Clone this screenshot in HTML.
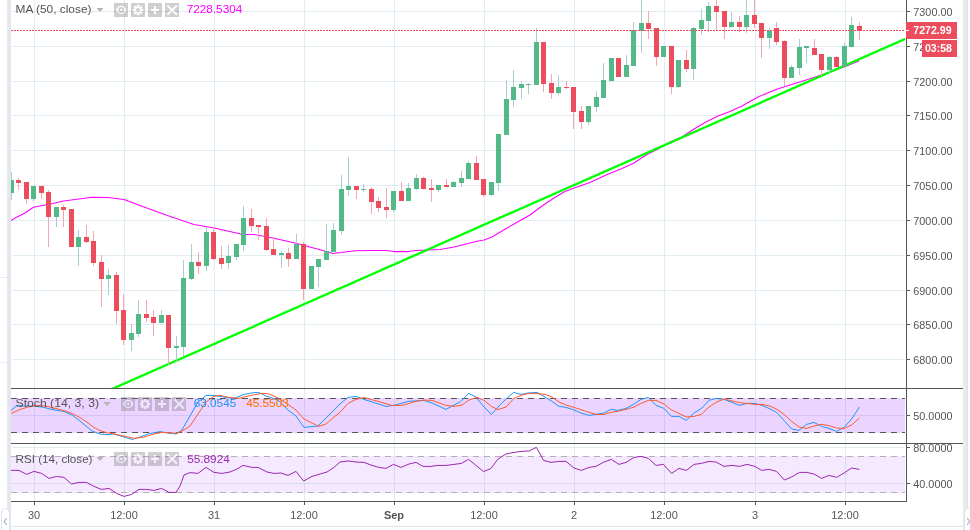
<!DOCTYPE html>
<html><head><meta charset="utf-8"><title>Chart</title>
<style>html,body{margin:0;padding:0;background:#fff;}body{width:970px;height:530px;overflow:hidden;font-family:"Liberation Sans",sans-serif;}svg{display:block;will-change:transform;}text{font-family:"Liberation Sans",sans-serif;}</style>
</head><body>
<svg width="970" height="530" viewBox="0 0 970 530">
<defs>
<clipPath id="cm"><rect x="11" y="0" width="894" height="388"/></clipPath>
<clipPath id="cs"><rect x="11" y="389" width="894" height="54"/></clipPath>
<clipPath id="cr"><rect x="11" y="444" width="894" height="57"/></clipPath>
</defs>
<rect x="0" y="0" width="970" height="530" fill="#ffffff"/>
<g shape-rendering="crispEdges">
<rect x="7" y="0" width="1" height="530" fill="#e7eaee"/>
<rect x="8" y="0" width="3" height="530" fill="#e3e7eb"/>
<rect x="0" y="277" width="7" height="1" fill="#e6eaee"/>
<rect x="0" y="362" width="7" height="1" fill="#eceff3"/>
<rect x="968" y="148" width="2" height="1" fill="#f0f2f4"/>
<rect x="968" y="369" width="2" height="1" fill="#f0f2f4"/>
<rect x="963" y="0" width="4" height="530" fill="#e8ebee"/>
<rect x="967" y="0" width="1" height="530" fill="#dde1e6"/>
</g>
<g shape-rendering="crispEdges" fill="#e1ecf2">
<rect x="12" y="11" width="893" height="1"/>
<rect x="12" y="46" width="893" height="1"/>
<rect x="12" y="81" width="893" height="1"/>
<rect x="12" y="115" width="893" height="1"/>
<rect x="12" y="150" width="893" height="1"/>
<rect x="12" y="185" width="893" height="1"/>
<rect x="12" y="220" width="893" height="1"/>
<rect x="12" y="255" width="893" height="1"/>
<rect x="12" y="290" width="893" height="1"/>
<rect x="12" y="324" width="893" height="1"/>
<rect x="12" y="359" width="893" height="1"/>
<rect x="12" y="415" width="893" height="1"/>
<rect x="12" y="447" width="893" height="1"/>
<rect x="12" y="483" width="893" height="1"/>
<rect x="34" y="0" width="1" height="501"/>
<rect x="124" y="0" width="1" height="501"/>
<rect x="214" y="0" width="1" height="501"/>
<rect x="304" y="0" width="1" height="501"/>
<rect x="394" y="0" width="1" height="501"/>
<rect x="484" y="0" width="1" height="501"/>
<rect x="574" y="0" width="1" height="501"/>
<rect x="664" y="0" width="1" height="501"/>
<rect x="755" y="0" width="1" height="501"/>
<rect x="845" y="0" width="1" height="501"/>
</g>
<g clip-path="url(#cm)">
<polyline points="11,220.5 16,217.5 25,213 33.5,207.2 45,205 53,203.5 62,201.2 75,199.5 92,197.3 108,197.4 124,199.4 144,207 166,215 185,221.4 194,224.4 214.4,228 243,234.4 253,234.4 273,238 297,243.4 321,250 333,253.4 341,252.6 355,250.8 370,250.4 386,250.4 394,251.6 408,251.6 416,250.4 428,250 440,249.4 454,247 466,244 478,241 484,240 492,237 502,231 514,224 530,215 542,206 554,198 564,192 574,188 590,182.4 606,175 622,168.4 634,163 646,155 658,149 670,142 682,137 694,129 706,122 718,116 730,111.6 742,106 758,97 776,89.4 790,85 814,77.5 830,72 844,67 859,61" fill="none" stroke="#ff00ff" stroke-width="1.05" stroke-linejoin="round"/>
<line x1="100" y1="394.28" x2="920" y2="32.38" stroke="#00ff00" stroke-width="2.3"/>
<g shape-rendering="crispEdges">
<rect x="11" y="172" width="1" height="8" fill="#a9cdd3"/>
<rect x="11" y="193" width="1" height="7" fill="#a9cdd3"/>
<rect x="9" y="180" width="5" height="13" fill="#53b987"/>
<rect x="18" y="178" width="1" height="2" fill="#f5a6ae"/>
<rect x="18" y="183" width="1" height="7" fill="#f5a6ae"/>
<rect x="16" y="180" width="5" height="3" fill="#eb4d5c"/>
<rect x="26" y="199" width="1" height="5" fill="#f5a6ae"/>
<rect x="24" y="182" width="5" height="17" fill="#eb4d5c"/>
<rect x="33" y="199" width="1" height="2" fill="#a9cdd3"/>
<rect x="31" y="186" width="5" height="13" fill="#53b987"/>
<rect x="41" y="193" width="1" height="6" fill="#f5a6ae"/>
<rect x="39" y="186" width="5" height="7" fill="#eb4d5c"/>
<rect x="48" y="190" width="1" height="2" fill="#f5a6ae"/>
<rect x="48" y="217" width="1" height="30" fill="#f5a6ae"/>
<rect x="46" y="192" width="5" height="25" fill="#eb4d5c"/>
<rect x="56" y="217" width="1" height="10" fill="#a9cdd3"/>
<rect x="54" y="207" width="5" height="10" fill="#53b987"/>
<rect x="63" y="205" width="1" height="2" fill="#f5a6ae"/>
<rect x="63" y="210" width="1" height="17" fill="#f5a6ae"/>
<rect x="61" y="207" width="5" height="3" fill="#eb4d5c"/>
<rect x="69" y="209" width="5" height="38" fill="#eb4d5c"/>
<rect x="78" y="230" width="1" height="7" fill="#a9cdd3"/>
<rect x="78" y="247" width="1" height="19" fill="#a9cdd3"/>
<rect x="76" y="237" width="5" height="10" fill="#53b987"/>
<rect x="86" y="225" width="1" height="12" fill="#f5a6ae"/>
<rect x="86" y="242" width="1" height="1" fill="#f5a6ae"/>
<rect x="84" y="237" width="5" height="5" fill="#eb4d5c"/>
<rect x="93" y="231" width="1" height="10" fill="#f5a6ae"/>
<rect x="93" y="263" width="1" height="3" fill="#f5a6ae"/>
<rect x="91" y="241" width="5" height="22" fill="#eb4d5c"/>
<rect x="101" y="255" width="1" height="7" fill="#f5a6ae"/>
<rect x="101" y="279" width="1" height="28" fill="#f5a6ae"/>
<rect x="99" y="262" width="5" height="17" fill="#eb4d5c"/>
<rect x="108" y="269" width="1" height="6" fill="#a9cdd3"/>
<rect x="108" y="279" width="1" height="16" fill="#a9cdd3"/>
<rect x="106" y="275" width="5" height="4" fill="#53b987"/>
<rect x="116" y="272" width="1" height="3" fill="#f5a6ae"/>
<rect x="116" y="311" width="1" height="13" fill="#f5a6ae"/>
<rect x="114" y="275" width="5" height="36" fill="#eb4d5c"/>
<rect x="123" y="294" width="1" height="16" fill="#f5a6ae"/>
<rect x="123" y="340" width="1" height="5" fill="#f5a6ae"/>
<rect x="121" y="310" width="5" height="30" fill="#eb4d5c"/>
<rect x="131" y="324" width="1" height="9" fill="#a9cdd3"/>
<rect x="131" y="340" width="1" height="11" fill="#a9cdd3"/>
<rect x="129" y="333" width="5" height="7" fill="#53b987"/>
<rect x="138" y="300" width="1" height="14" fill="#a9cdd3"/>
<rect x="138" y="334" width="1" height="3" fill="#a9cdd3"/>
<rect x="136" y="314" width="5" height="20" fill="#53b987"/>
<rect x="146" y="300" width="1" height="14" fill="#f5a6ae"/>
<rect x="146" y="318" width="1" height="4" fill="#f5a6ae"/>
<rect x="144" y="314" width="5" height="4" fill="#eb4d5c"/>
<rect x="153" y="310" width="1" height="7" fill="#f5a6ae"/>
<rect x="153" y="323" width="1" height="13" fill="#f5a6ae"/>
<rect x="151" y="317" width="5" height="6" fill="#eb4d5c"/>
<rect x="161" y="310" width="1" height="5" fill="#a9cdd3"/>
<rect x="159" y="315" width="5" height="8" fill="#53b987"/>
<rect x="168" y="348" width="1" height="17" fill="#f5a6ae"/>
<rect x="166" y="315" width="5" height="33" fill="#eb4d5c"/>
<rect x="176" y="336" width="1" height="10" fill="#a9cdd3"/>
<rect x="176" y="348" width="1" height="13" fill="#a9cdd3"/>
<rect x="174" y="346" width="5" height="2" fill="#53b987"/>
<rect x="183" y="260" width="1" height="18" fill="#a9cdd3"/>
<rect x="183" y="347" width="1" height="9" fill="#a9cdd3"/>
<rect x="181" y="278" width="5" height="69" fill="#53b987"/>
<rect x="191" y="244" width="1" height="18" fill="#a9cdd3"/>
<rect x="191" y="279" width="1" height="1" fill="#a9cdd3"/>
<rect x="189" y="262" width="5" height="17" fill="#53b987"/>
<rect x="198" y="252" width="1" height="10" fill="#f5a6ae"/>
<rect x="198" y="266" width="1" height="8" fill="#f5a6ae"/>
<rect x="196" y="262" width="5" height="4" fill="#eb4d5c"/>
<rect x="206" y="227" width="1" height="5" fill="#a9cdd3"/>
<rect x="206" y="266" width="1" height="5" fill="#a9cdd3"/>
<rect x="204" y="232" width="5" height="34" fill="#53b987"/>
<rect x="213" y="227" width="1" height="5" fill="#f5a6ae"/>
<rect x="213" y="259" width="1" height="1" fill="#f5a6ae"/>
<rect x="211" y="232" width="5" height="27" fill="#eb4d5c"/>
<rect x="221" y="246" width="1" height="12" fill="#f5a6ae"/>
<rect x="221" y="264" width="1" height="5" fill="#f5a6ae"/>
<rect x="219" y="258" width="5" height="6" fill="#eb4d5c"/>
<rect x="228" y="245" width="1" height="11" fill="#a9cdd3"/>
<rect x="228" y="263" width="1" height="6" fill="#a9cdd3"/>
<rect x="226" y="256" width="5" height="7" fill="#53b987"/>
<rect x="236" y="257" width="1" height="3" fill="#a9cdd3"/>
<rect x="234" y="244" width="5" height="13" fill="#53b987"/>
<rect x="243" y="206" width="1" height="12" fill="#a9cdd3"/>
<rect x="243" y="245" width="1" height="6" fill="#a9cdd3"/>
<rect x="241" y="218" width="5" height="27" fill="#53b987"/>
<rect x="251" y="209" width="1" height="9" fill="#f5a6ae"/>
<rect x="251" y="226" width="1" height="6" fill="#f5a6ae"/>
<rect x="249" y="218" width="5" height="8" fill="#eb4d5c"/>
<rect x="258" y="227" width="1" height="13" fill="#f5a6ae"/>
<rect x="256" y="225" width="5" height="2" fill="#eb4d5c"/>
<rect x="266" y="218" width="1" height="8" fill="#f5a6ae"/>
<rect x="266" y="250" width="1" height="1" fill="#f5a6ae"/>
<rect x="264" y="226" width="5" height="24" fill="#eb4d5c"/>
<rect x="273" y="237" width="1" height="12" fill="#f5a6ae"/>
<rect x="271" y="249" width="5" height="6" fill="#eb4d5c"/>
<rect x="281" y="251" width="1" height="2" fill="#a9cdd3"/>
<rect x="281" y="255" width="1" height="13" fill="#a9cdd3"/>
<rect x="279" y="253" width="5" height="2" fill="#53b987"/>
<rect x="288" y="248" width="1" height="5" fill="#f5a6ae"/>
<rect x="288" y="259" width="1" height="8" fill="#f5a6ae"/>
<rect x="286" y="253" width="5" height="6" fill="#eb4d5c"/>
<rect x="296" y="234" width="1" height="10" fill="#a9cdd3"/>
<rect x="294" y="244" width="5" height="15" fill="#53b987"/>
<rect x="303" y="242" width="1" height="2" fill="#f5a6ae"/>
<rect x="303" y="289" width="1" height="11" fill="#f5a6ae"/>
<rect x="301" y="244" width="5" height="45" fill="#eb4d5c"/>
<rect x="309" y="266" width="5" height="23" fill="#53b987"/>
<rect x="318" y="267" width="1" height="20" fill="#a9cdd3"/>
<rect x="316" y="259" width="5" height="8" fill="#53b987"/>
<rect x="326" y="224" width="1" height="27" fill="#a9cdd3"/>
<rect x="324" y="251" width="5" height="9" fill="#53b987"/>
<rect x="333" y="223" width="1" height="7" fill="#a9cdd3"/>
<rect x="331" y="230" width="5" height="22" fill="#53b987"/>
<rect x="341" y="175" width="1" height="14" fill="#a9cdd3"/>
<rect x="341" y="231" width="1" height="4" fill="#a9cdd3"/>
<rect x="339" y="189" width="5" height="42" fill="#53b987"/>
<rect x="348" y="157" width="1" height="29" fill="#a9cdd3"/>
<rect x="348" y="190" width="1" height="6" fill="#a9cdd3"/>
<rect x="346" y="186" width="5" height="4" fill="#53b987"/>
<rect x="356" y="190" width="1" height="9" fill="#f5a6ae"/>
<rect x="354" y="186" width="5" height="4" fill="#eb4d5c"/>
<rect x="363" y="184" width="1" height="5" fill="#a9cdd3"/>
<rect x="363" y="190" width="1" height="2" fill="#a9cdd3"/>
<rect x="361" y="189" width="5" height="1" fill="#53b987"/>
<rect x="371" y="187" width="1" height="2" fill="#f5a6ae"/>
<rect x="371" y="202" width="1" height="12" fill="#f5a6ae"/>
<rect x="369" y="189" width="5" height="13" fill="#eb4d5c"/>
<rect x="378" y="197" width="1" height="4" fill="#f5a6ae"/>
<rect x="378" y="208" width="1" height="4" fill="#f5a6ae"/>
<rect x="376" y="201" width="5" height="7" fill="#eb4d5c"/>
<rect x="386" y="188" width="1" height="19" fill="#f5a6ae"/>
<rect x="386" y="210" width="1" height="8" fill="#f5a6ae"/>
<rect x="384" y="207" width="5" height="3" fill="#eb4d5c"/>
<rect x="393" y="210" width="1" height="2" fill="#a9cdd3"/>
<rect x="391" y="191" width="5" height="19" fill="#53b987"/>
<rect x="401" y="182" width="1" height="9" fill="#f5a6ae"/>
<rect x="399" y="191" width="5" height="10" fill="#eb4d5c"/>
<rect x="408" y="183" width="1" height="5" fill="#a9cdd3"/>
<rect x="406" y="188" width="5" height="13" fill="#53b987"/>
<rect x="416" y="174" width="1" height="4" fill="#a9cdd3"/>
<rect x="416" y="189" width="1" height="1" fill="#a9cdd3"/>
<rect x="414" y="178" width="5" height="11" fill="#53b987"/>
<rect x="423" y="177" width="1" height="1" fill="#f5a6ae"/>
<rect x="421" y="178" width="5" height="11" fill="#eb4d5c"/>
<rect x="431" y="179" width="1" height="9" fill="#f5a6ae"/>
<rect x="431" y="190" width="1" height="12" fill="#f5a6ae"/>
<rect x="429" y="188" width="5" height="2" fill="#eb4d5c"/>
<rect x="438" y="190" width="1" height="2" fill="#a9cdd3"/>
<rect x="436" y="185" width="5" height="5" fill="#53b987"/>
<rect x="446" y="179" width="1" height="6" fill="#f5a6ae"/>
<rect x="444" y="185" width="5" height="2" fill="#eb4d5c"/>
<rect x="453" y="181" width="1" height="1" fill="#a9cdd3"/>
<rect x="451" y="182" width="5" height="5" fill="#53b987"/>
<rect x="461" y="171" width="1" height="7" fill="#a9cdd3"/>
<rect x="461" y="183" width="1" height="4" fill="#a9cdd3"/>
<rect x="459" y="178" width="5" height="5" fill="#53b987"/>
<rect x="468" y="161" width="1" height="2" fill="#a9cdd3"/>
<rect x="466" y="163" width="5" height="16" fill="#53b987"/>
<rect x="476" y="156" width="1" height="7" fill="#f5a6ae"/>
<rect x="474" y="163" width="5" height="17" fill="#eb4d5c"/>
<rect x="483" y="195" width="1" height="2" fill="#f5a6ae"/>
<rect x="481" y="179" width="5" height="16" fill="#eb4d5c"/>
<rect x="491" y="195" width="1" height="1" fill="#a9cdd3"/>
<rect x="489" y="182" width="5" height="13" fill="#53b987"/>
<rect x="498" y="183" width="1" height="8" fill="#a9cdd3"/>
<rect x="496" y="134" width="5" height="49" fill="#53b987"/>
<rect x="506" y="80" width="1" height="19" fill="#a9cdd3"/>
<rect x="504" y="99" width="5" height="36" fill="#53b987"/>
<rect x="513" y="70" width="1" height="17" fill="#a9cdd3"/>
<rect x="513" y="100" width="1" height="7" fill="#a9cdd3"/>
<rect x="511" y="87" width="5" height="13" fill="#53b987"/>
<rect x="521" y="81" width="1" height="3" fill="#a9cdd3"/>
<rect x="521" y="88" width="1" height="11" fill="#a9cdd3"/>
<rect x="519" y="84" width="5" height="4" fill="#53b987"/>
<rect x="528" y="83" width="1" height="1" fill="#a9cdd3"/>
<rect x="528" y="85" width="1" height="9" fill="#a9cdd3"/>
<rect x="526" y="84" width="5" height="1" fill="#53b987"/>
<rect x="536" y="28" width="1" height="14" fill="#a9cdd3"/>
<rect x="534" y="42" width="5" height="43" fill="#53b987"/>
<rect x="543" y="84" width="1" height="8" fill="#f5a6ae"/>
<rect x="541" y="42" width="5" height="42" fill="#eb4d5c"/>
<rect x="551" y="74" width="1" height="9" fill="#f5a6ae"/>
<rect x="551" y="93" width="1" height="6" fill="#f5a6ae"/>
<rect x="549" y="83" width="5" height="10" fill="#eb4d5c"/>
<rect x="558" y="75" width="1" height="12" fill="#a9cdd3"/>
<rect x="558" y="93" width="1" height="2" fill="#a9cdd3"/>
<rect x="556" y="87" width="5" height="6" fill="#53b987"/>
<rect x="566" y="81" width="1" height="6" fill="#f5a6ae"/>
<rect x="566" y="88" width="1" height="1" fill="#f5a6ae"/>
<rect x="564" y="87" width="5" height="1" fill="#eb4d5c"/>
<rect x="573" y="112" width="1" height="17" fill="#f5a6ae"/>
<rect x="571" y="87" width="5" height="25" fill="#eb4d5c"/>
<rect x="581" y="106" width="1" height="5" fill="#f5a6ae"/>
<rect x="581" y="122" width="1" height="7" fill="#f5a6ae"/>
<rect x="579" y="111" width="5" height="11" fill="#eb4d5c"/>
<rect x="588" y="122" width="1" height="3" fill="#a9cdd3"/>
<rect x="586" y="106" width="5" height="16" fill="#53b987"/>
<rect x="596" y="91" width="1" height="6" fill="#a9cdd3"/>
<rect x="596" y="107" width="1" height="5" fill="#a9cdd3"/>
<rect x="594" y="97" width="5" height="10" fill="#53b987"/>
<rect x="603" y="63" width="1" height="17" fill="#a9cdd3"/>
<rect x="601" y="80" width="5" height="18" fill="#53b987"/>
<rect x="609" y="58" width="5" height="23" fill="#53b987"/>
<rect x="616" y="58" width="5" height="19" fill="#eb4d5c"/>
<rect x="626" y="55" width="1" height="10" fill="#a9cdd3"/>
<rect x="624" y="65" width="5" height="12" fill="#53b987"/>
<rect x="633" y="22" width="1" height="8" fill="#a9cdd3"/>
<rect x="631" y="30" width="5" height="36" fill="#53b987"/>
<rect x="641" y="0" width="1" height="23" fill="#a9cdd3"/>
<rect x="641" y="31" width="1" height="22" fill="#a9cdd3"/>
<rect x="639" y="23" width="5" height="8" fill="#53b987"/>
<rect x="648" y="11" width="1" height="12" fill="#f5a6ae"/>
<rect x="648" y="29" width="1" height="10" fill="#f5a6ae"/>
<rect x="646" y="23" width="5" height="6" fill="#eb4d5c"/>
<rect x="656" y="57" width="1" height="9" fill="#f5a6ae"/>
<rect x="654" y="28" width="5" height="29" fill="#eb4d5c"/>
<rect x="661" y="46" width="5" height="11" fill="#53b987"/>
<rect x="671" y="87" width="1" height="7" fill="#f5a6ae"/>
<rect x="669" y="46" width="5" height="41" fill="#eb4d5c"/>
<rect x="678" y="87" width="1" height="1" fill="#a9cdd3"/>
<rect x="676" y="60" width="5" height="27" fill="#53b987"/>
<rect x="686" y="50" width="1" height="10" fill="#f5a6ae"/>
<rect x="686" y="69" width="1" height="3" fill="#f5a6ae"/>
<rect x="684" y="60" width="5" height="9" fill="#eb4d5c"/>
<rect x="693" y="27" width="1" height="1" fill="#a9cdd3"/>
<rect x="693" y="69" width="1" height="11" fill="#a9cdd3"/>
<rect x="691" y="28" width="5" height="41" fill="#53b987"/>
<rect x="701" y="9" width="1" height="11" fill="#a9cdd3"/>
<rect x="701" y="29" width="1" height="6" fill="#a9cdd3"/>
<rect x="699" y="20" width="5" height="9" fill="#53b987"/>
<rect x="708" y="2" width="1" height="4" fill="#a9cdd3"/>
<rect x="708" y="21" width="1" height="11" fill="#a9cdd3"/>
<rect x="706" y="6" width="5" height="15" fill="#53b987"/>
<rect x="716" y="0" width="1" height="6" fill="#f5a6ae"/>
<rect x="716" y="12" width="1" height="19" fill="#f5a6ae"/>
<rect x="714" y="6" width="5" height="6" fill="#eb4d5c"/>
<rect x="724" y="27" width="1" height="12" fill="#f5a6ae"/>
<rect x="722" y="11" width="5" height="16" fill="#eb4d5c"/>
<rect x="731" y="12" width="1" height="10" fill="#a9cdd3"/>
<rect x="729" y="22" width="5" height="5" fill="#53b987"/>
<rect x="739" y="16" width="1" height="6" fill="#f5a6ae"/>
<rect x="739" y="27" width="1" height="5" fill="#f5a6ae"/>
<rect x="737" y="22" width="5" height="5" fill="#eb4d5c"/>
<rect x="746" y="0" width="1" height="15" fill="#a9cdd3"/>
<rect x="746" y="27" width="1" height="6" fill="#a9cdd3"/>
<rect x="744" y="15" width="5" height="12" fill="#53b987"/>
<rect x="754" y="0" width="1" height="15" fill="#f5a6ae"/>
<rect x="754" y="24" width="1" height="4" fill="#f5a6ae"/>
<rect x="752" y="15" width="5" height="9" fill="#eb4d5c"/>
<rect x="761" y="38" width="1" height="20" fill="#f5a6ae"/>
<rect x="759" y="23" width="5" height="15" fill="#eb4d5c"/>
<rect x="769" y="27" width="1" height="4" fill="#a9cdd3"/>
<rect x="769" y="38" width="1" height="11" fill="#a9cdd3"/>
<rect x="767" y="31" width="5" height="7" fill="#53b987"/>
<rect x="776" y="22" width="1" height="6" fill="#f5a6ae"/>
<rect x="776" y="42" width="1" height="3" fill="#f5a6ae"/>
<rect x="774" y="28" width="5" height="14" fill="#eb4d5c"/>
<rect x="784" y="40" width="1" height="1" fill="#f5a6ae"/>
<rect x="784" y="78" width="1" height="8" fill="#f5a6ae"/>
<rect x="782" y="41" width="5" height="37" fill="#eb4d5c"/>
<rect x="791" y="65" width="1" height="2" fill="#a9cdd3"/>
<rect x="789" y="67" width="5" height="11" fill="#53b987"/>
<rect x="799" y="39" width="1" height="8" fill="#a9cdd3"/>
<rect x="799" y="68" width="1" height="7" fill="#a9cdd3"/>
<rect x="797" y="47" width="5" height="21" fill="#53b987"/>
<rect x="806" y="48" width="1" height="15" fill="#a9cdd3"/>
<rect x="804" y="46" width="5" height="2" fill="#53b987"/>
<rect x="814" y="39" width="1" height="9" fill="#f5a6ae"/>
<rect x="812" y="48" width="5" height="7" fill="#eb4d5c"/>
<rect x="821" y="70" width="1" height="6" fill="#f5a6ae"/>
<rect x="819" y="54" width="5" height="16" fill="#eb4d5c"/>
<rect x="829" y="56" width="1" height="1" fill="#a9cdd3"/>
<rect x="829" y="70" width="1" height="4" fill="#a9cdd3"/>
<rect x="827" y="57" width="5" height="13" fill="#53b987"/>
<rect x="836" y="56" width="1" height="1" fill="#f5a6ae"/>
<rect x="834" y="57" width="5" height="10" fill="#eb4d5c"/>
<rect x="844" y="43" width="1" height="3" fill="#a9cdd3"/>
<rect x="842" y="46" width="5" height="21" fill="#53b987"/>
<rect x="851" y="17" width="1" height="8" fill="#a9cdd3"/>
<rect x="849" y="25" width="5" height="22" fill="#53b987"/>
<rect x="859" y="22" width="1" height="4" fill="#f5a6ae"/>
<rect x="859" y="31" width="1" height="9" fill="#f5a6ae"/>
<rect x="857" y="26" width="5" height="5" fill="#eb4d5c"/>
</g>
<line x1="11" y1="30.5" x2="906" y2="30.5" stroke="#eb4d5c" stroke-width="1" stroke-dasharray="2 1" shape-rendering="crispEdges"/>
</g>
<g clip-path="url(#cs)">
<rect x="11" y="398" width="894" height="35" fill="#9c27ff" fill-opacity="0.2" shape-rendering="crispEdges"/>
<line x1="11" y1="398.5" x2="905" y2="398.5" stroke="#555" stroke-width="1" stroke-dasharray="6 5" shape-rendering="crispEdges"/>
<line x1="11" y1="432.5" x2="905" y2="432.5" stroke="#555" stroke-width="1" stroke-dasharray="6 5" shape-rendering="crispEdges"/>
<polyline points="11,410.5 17,405.5 25,406 34,406 43,407.2 52,409.5 64,411.5 72,415 80,421 92,431 100,434 107,434.5 114,434 124,437 132,439.4 140,437 148,434 160,431.6 168,433 176,434 182,430 190,416 198,402 206,395.4 214,395.4 224,397 234,398.4 244,394.4 254,392.6 259,392.6 266,396 278,400 288,410 296,416 304,427.4 318,426 326,418 334,410 340,404 348,397.4 356,396.4 364,399.4 386,406.4 394,405.4 408,401.4 424,400.4 432,403 446,409.4 461,401.4 468.6,393.4 476,397 484,407 491.4,414.4 500,405 506,399 513.6,392.4 521,394.4 528,393 537,392.4 544,396.4 552,401.4 559,406.4 566,407.4 574,410 582,413.4 589,415.4 596,414.4 604,413 611,409.4 618,410.4 626,408.4 634,404 641,399.4 648.4,397.4 656,405.4 664,408.4 671.4,416.4 679,416.4 686.4,420.4 694,413 702,408 709,400.4 716,398.4 724,399.4 732,402.4 739.4,405.4 747,403.4 755,403.4 762,405.4 769,408.4 776.6,412.4 784,420.4 791.6,429 799,430.4 806.6,424.4 814,422.4 821.6,426.4 829,428.4 836.6,431.4 844,427.4 851.6,419 859.4,407" fill="none" stroke="#2196f3" stroke-width="1" stroke-linejoin="round"/>
<polyline points="11,413.5 20,409.5 28,407 35,405.5 43,405.8 50,407 60,409.5 70,412.5 80,417.5 88,423 94,427.5 100,430.5 107,432.8 112,433.6 124,436 134,438.4 144,437 154,434 162,432.4 172,433 178,433 184,430 190,426 198,414 206,402 214,396.4 220,395.4 230,397.6 238,398.4 250,395.6 262,393.4 268,393.6 278,398 286,403 296,410 304,419 312,423 319,426.4 326,424 334,417 340,412.4 348,403.4 356,399.4 364,397.6 378,401.4 392,405.4 402,405.4 416,401.4 424,400 432,400.4 446,405.4 454,406.4 462,405 469,400 477,397.4 484,400.4 491.4,406.4 498,409.6 506,407 514,398.4 521,395.4 528,393.6 537,393.6 545,394.4 552,397 559,402 567,405.4 574,407.4 582,410 589,412.4 596,414.4 604,414.4 611,412.4 619,411 626,409.4 634,407 641,403.4 648.4,400.4 656,400.4 664,404 671.4,410 679,413.4 686.4,417 694,416.4 701.4,414.4 709,407 716,402.4 724,399 728,400 739.4,402.6 747,403.4 755,404.4 762,404.4 770,406 777,409.4 784,414.4 791.6,421.4 799,427 806.6,428.4 814,426 821.6,424.4 829,425.6 836.6,428 844,428.6 851.6,425 859.4,418" fill="none" stroke="#ff5b2e" stroke-width="1" stroke-linejoin="round"/>
</g>
<g clip-path="url(#cr)">
<rect x="11" y="456" width="894" height="37" fill="#9c27ff" fill-opacity="0.1" shape-rendering="crispEdges"/>
<line x1="11" y1="456.5" x2="905" y2="456.5" stroke="#b0b0b0" stroke-width="1" stroke-dasharray="6 5" shape-rendering="crispEdges"/>
<line x1="11" y1="492.5" x2="905" y2="492.5" stroke="#b0b0b0" stroke-width="1" stroke-dasharray="6 5" shape-rendering="crispEdges"/>
<polyline points="11,470.4 19,470.4 26.6,474.4 34,471.4 41.6,473.4 49,478.4 56.6,476.4 64,477.4 71.6,484 79,482.4 86.6,482.4 94,486.4 101.6,489.4 109,488.4 116.6,493.4 124,496.4 131.6,494.4 139,489.4 146.6,489.4 154,490.4 161.6,488.4 169,492.4 176,492.4 180,486 184,475 190,472.6 198,473.4 206,467.4 214,472.4 222,473.4 230,472 238,468.6 243,465.4 252,467.4 258,467.4 267,472 274,473.4 281,473 288,475.4 296,471.4 303.6,481 312,476.4 320,474 327,472 334,467.4 340,462 348,461 356,462 364,462.4 372,465.4 379,467.4 386,468.4 393.4,464.4 401,467.4 409,464 416,462.4 423,466.4 431,466.4 438,465.4 446,465.4 454,464.4 461.4,463.4 468.6,459.4 476,465.4 483.6,471.6 491,468.4 498,459 506,454 514,452.4 521,451.4 529,451 536.4,447.4 543.6,460.4 551,462.4 559,461.4 566,461.4 574,468 581.4,470.4 589,467.4 596,466.4 604,462 611.4,459.4 619,464.4 626,462.4 634,457.4 641,456.4 648.4,458.4 656,465.4 663.4,464.4 671.6,473.4 679,468.4 686.4,470.4 694,464.4 701.4,463.4 709,461.4 716,462 724,466.4 732,465.4 739.4,466.4 747,464.4 755,466.4 761.6,470.4 769,469.4 776.6,471.4 784.4,480 791.6,477 799.4,472.4 806.6,472.4 814,474 821.6,478.4 829,475.4 836.6,477.4 844,473 851.6,468 859.4,469.4" fill="none" stroke="#9c27b0" stroke-width="1" stroke-linejoin="round"/>
</g>
<g shape-rendering="crispEdges" fill="#555555">
<rect x="11" y="388" width="952" height="1"/>
<rect x="11" y="443" width="952" height="1"/>
<rect x="11" y="501" width="896" height="1"/>
<rect x="906" y="0" width="1" height="502"/>
<rect x="907" y="11" width="3" height="1"/>
<rect x="907" y="46" width="3" height="1"/>
<rect x="907" y="81" width="3" height="1"/>
<rect x="907" y="115" width="3" height="1"/>
<rect x="907" y="150" width="3" height="1"/>
<rect x="907" y="185" width="3" height="1"/>
<rect x="907" y="220" width="3" height="1"/>
<rect x="907" y="255" width="3" height="1"/>
<rect x="907" y="290" width="3" height="1"/>
<rect x="907" y="324" width="3" height="1"/>
<rect x="907" y="359" width="3" height="1"/>
<rect x="907" y="415" width="3" height="1"/>
<rect x="907" y="447" width="3" height="1"/>
<rect x="907" y="483" width="3" height="1"/>
<rect x="34" y="502" width="1" height="3"/>
<rect x="124" y="502" width="1" height="3"/>
<rect x="214" y="502" width="1" height="3"/>
<rect x="304" y="502" width="1" height="3"/>
<rect x="394" y="502" width="1" height="3"/>
<rect x="484" y="502" width="1" height="3"/>
<rect x="574" y="502" width="1" height="3"/>
<rect x="664" y="502" width="1" height="3"/>
<rect x="755" y="502" width="1" height="3"/>
<rect x="845" y="502" width="1" height="3"/>
</g>
<rect x="11" y="526" width="952" height="1" fill="#dfe6ec" shape-rendering="crispEdges"/>
<text x="913.3" y="15.6" font-size="11" fill="#555555" font-weight="normal" text-anchor="start" textLength="39.2" lengthAdjust="spacingAndGlyphs">7300.00</text>
<text x="913.3" y="50.6" font-size="11" fill="#555555" font-weight="normal" text-anchor="start" textLength="39.2" lengthAdjust="spacingAndGlyphs">7250.00</text>
<text x="913.3" y="85.6" font-size="11" fill="#555555" font-weight="normal" text-anchor="start" textLength="39.2" lengthAdjust="spacingAndGlyphs">7200.00</text>
<text x="913.3" y="119.6" font-size="11" fill="#555555" font-weight="normal" text-anchor="start" textLength="39.2" lengthAdjust="spacingAndGlyphs">7150.00</text>
<text x="913.3" y="154.6" font-size="11" fill="#555555" font-weight="normal" text-anchor="start" textLength="39.2" lengthAdjust="spacingAndGlyphs">7100.00</text>
<text x="913.3" y="189.6" font-size="11" fill="#555555" font-weight="normal" text-anchor="start" textLength="39.2" lengthAdjust="spacingAndGlyphs">7050.00</text>
<text x="913.3" y="224.6" font-size="11" fill="#555555" font-weight="normal" text-anchor="start" textLength="39.2" lengthAdjust="spacingAndGlyphs">7000.00</text>
<text x="913.3" y="259.6" font-size="11" fill="#555555" font-weight="normal" text-anchor="start" textLength="39.2" lengthAdjust="spacingAndGlyphs">6950.00</text>
<text x="913.3" y="294.6" font-size="11" fill="#555555" font-weight="normal" text-anchor="start" textLength="39.2" lengthAdjust="spacingAndGlyphs">6900.00</text>
<text x="913.3" y="328.6" font-size="11" fill="#555555" font-weight="normal" text-anchor="start" textLength="39.2" lengthAdjust="spacingAndGlyphs">6850.00</text>
<text x="913.3" y="363.6" font-size="11" fill="#555555" font-weight="normal" text-anchor="start" textLength="39.2" lengthAdjust="spacingAndGlyphs">6800.00</text>
<text x="913.3" y="419.6" font-size="11" fill="#555555" font-weight="normal" text-anchor="start" textLength="39.2" lengthAdjust="spacingAndGlyphs">50.0000</text>
<text x="913.3" y="451.6" font-size="11" fill="#555555" font-weight="normal" text-anchor="start" textLength="39.2" lengthAdjust="spacingAndGlyphs">80.0000</text>
<text x="913.3" y="487.6" font-size="11" fill="#555555" font-weight="normal" text-anchor="start" textLength="39.2" lengthAdjust="spacingAndGlyphs">40.0000</text>
<rect x="906" y="22" width="51" height="17" fill="#eb4d5c" shape-rendering="crispEdges"/>
<rect x="906" y="30" width="3" height="1" fill="#fff" shape-rendering="crispEdges"/>
<rect x="922" y="40" width="35" height="17" fill="#eb4d5c" shape-rendering="crispEdges"/>
<text x="913.3" y="33.8" font-size="11" fill="#fff" font-weight="bold" text-anchor="start" textLength="38.3" lengthAdjust="spacingAndGlyphs">7272.99</text>
<text x="924.9" y="51.5" font-size="11" fill="#fff" font-weight="bold" text-anchor="start" textLength="27" lengthAdjust="spacingAndGlyphs">03:58</text>
<text x="34" y="518.7" font-size="11" fill="#555555" font-weight="normal" text-anchor="middle">30</text>
<text x="124" y="518.7" font-size="11" fill="#555555" font-weight="normal" text-anchor="middle">12:00</text>
<text x="214" y="518.7" font-size="11" fill="#555555" font-weight="normal" text-anchor="middle">31</text>
<text x="304" y="518.7" font-size="11" fill="#555555" font-weight="normal" text-anchor="middle">12:00</text>
<text x="394" y="518.7" font-size="11" fill="#555555" font-weight="bold" text-anchor="middle">Sep</text>
<text x="484" y="518.7" font-size="11" fill="#555555" font-weight="normal" text-anchor="middle">12:00</text>
<text x="574" y="518.7" font-size="11" fill="#555555" font-weight="normal" text-anchor="middle">2</text>
<text x="664" y="518.7" font-size="11" fill="#555555" font-weight="normal" text-anchor="middle">12:00</text>
<text x="755" y="518.7" font-size="11" fill="#555555" font-weight="normal" text-anchor="middle">3</text>
<text x="845" y="518.7" font-size="11" fill="#555555" font-weight="normal" text-anchor="middle">12:00</text>
<text x="15.5" y="13.2" font-size="11" fill="#555555" font-weight="normal" text-anchor="start" textLength="76" lengthAdjust="spacingAndGlyphs">MA (50, close)</text>
<path d="M96.5,8 L103.5,8 L100.0,12 Z" fill="#b4b4b4"/>
<g opacity="0.36">
<rect x="114" y="3" width="14" height="14" fill="#7d7d7d" shape-rendering="crispEdges"/>
<rect x="131" y="3" width="14" height="14" fill="#7d7d7d" shape-rendering="crispEdges"/>
<rect x="148" y="3" width="14" height="14" fill="#7d7d7d" shape-rendering="crispEdges"/>
<rect x="165" y="3" width="14" height="14" fill="#7d7d7d" shape-rendering="crispEdges"/>
<path d="M116.0,9.9 C118.0,4.5 124.4,4.5 126.4,9.9 C124.4,15.3 118.0,15.3 116.0,9.9 Z" fill="#fff"/>
<circle cx="121.2" cy="9.9" r="2.05" fill="none" stroke="#7d7d7d" stroke-width="1.9"/>
<rect x="136.8" y="4.8" width="2.4" height="10.4" fill="#fff" transform="rotate(0 138 10)"/>
<rect x="136.8" y="4.8" width="2.4" height="10.4" fill="#fff" transform="rotate(45 138 10)"/>
<rect x="136.8" y="4.8" width="2.4" height="10.4" fill="#fff" transform="rotate(90 138 10)"/>
<rect x="136.8" y="4.8" width="2.4" height="10.4" fill="#fff" transform="rotate(135 138 10)"/>
<circle cx="138" cy="10" r="3.6" fill="#fff"/>
<circle cx="138" cy="10" r="1.95" fill="#7d7d7d"/>
<rect x="151" y="9" width="8" height="2" fill="#fff" shape-rendering="crispEdges"/>
<rect x="154" y="6" width="2" height="8" fill="#fff" shape-rendering="crispEdges"/>
<path d="M167.4,5.4 L177,14.8 M177,5.4 L167.4,14.8" stroke="#fff" stroke-width="1.9" fill="none"/>
</g>
<text x="186.7" y="13.2" font-size="11" fill="#ff00ff" font-weight="normal" text-anchor="start" textLength="55.6" lengthAdjust="spacingAndGlyphs">7228.5304</text>
<text x="15.5" y="407.3" font-size="11" fill="#555555" font-weight="normal" text-anchor="start" textLength="83.5" lengthAdjust="spacingAndGlyphs">Stoch (14, 3, 3)</text>
<path d="M103.5,402 L110.5,402 L107.0,406 Z" fill="#b4b4b4"/>
<g opacity="0.36">
<rect x="121" y="397" width="14" height="14" fill="#7d7d7d" shape-rendering="crispEdges"/>
<rect x="138" y="397" width="14" height="14" fill="#7d7d7d" shape-rendering="crispEdges"/>
<rect x="155" y="397" width="14" height="14" fill="#7d7d7d" shape-rendering="crispEdges"/>
<rect x="172" y="397" width="14" height="14" fill="#7d7d7d" shape-rendering="crispEdges"/>
<path d="M122.99999999999999,403.9 C124.99999999999999,398.5 131.39999999999998,398.5 133.39999999999998,403.9 C131.39999999999998,409.29999999999995 124.99999999999999,409.29999999999995 122.99999999999999,403.9 Z" fill="#fff"/>
<circle cx="128.2" cy="403.9" r="2.05" fill="none" stroke="#7d7d7d" stroke-width="1.9"/>
<rect x="143.8" y="398.8" width="2.4" height="10.4" fill="#fff" transform="rotate(0 145 404)"/>
<rect x="143.8" y="398.8" width="2.4" height="10.4" fill="#fff" transform="rotate(45 145 404)"/>
<rect x="143.8" y="398.8" width="2.4" height="10.4" fill="#fff" transform="rotate(90 145 404)"/>
<rect x="143.8" y="398.8" width="2.4" height="10.4" fill="#fff" transform="rotate(135 145 404)"/>
<circle cx="145" cy="404" r="3.6" fill="#fff"/>
<circle cx="145" cy="404" r="1.95" fill="#7d7d7d"/>
<rect x="158" y="403" width="8" height="2" fill="#fff" shape-rendering="crispEdges"/>
<rect x="161" y="400" width="2" height="8" fill="#fff" shape-rendering="crispEdges"/>
<path d="M174.4,399.4 L184,408.8 M184,399.4 L174.4,408.8" stroke="#fff" stroke-width="1.9" fill="none"/>
</g>
<text x="193.7" y="407.3" font-size="11" fill="#2196f3" font-weight="normal" text-anchor="start" textLength="42.6" lengthAdjust="spacingAndGlyphs">63.0545</text>
<text x="246.2" y="407.3" font-size="11" fill="#ff6d00" font-weight="normal" text-anchor="start" textLength="42.6" lengthAdjust="spacingAndGlyphs">45.5503</text>
<text x="15.5" y="462.6" font-size="11" fill="#555555" font-weight="normal" text-anchor="start" textLength="77" lengthAdjust="spacingAndGlyphs">RSI (14, close)</text>
<path d="M96.5,457 L103.5,457 L100.0,461 Z" fill="#b4b4b4"/>
<g opacity="0.36">
<rect x="114" y="452" width="14" height="14" fill="#7d7d7d" shape-rendering="crispEdges"/>
<rect x="131" y="452" width="14" height="14" fill="#7d7d7d" shape-rendering="crispEdges"/>
<rect x="148" y="452" width="14" height="14" fill="#7d7d7d" shape-rendering="crispEdges"/>
<rect x="165" y="452" width="14" height="14" fill="#7d7d7d" shape-rendering="crispEdges"/>
<path d="M116.0,458.9 C118.0,453.5 124.4,453.5 126.4,458.9 C124.4,464.29999999999995 118.0,464.29999999999995 116.0,458.9 Z" fill="#fff"/>
<circle cx="121.2" cy="458.9" r="2.05" fill="none" stroke="#7d7d7d" stroke-width="1.9"/>
<rect x="136.8" y="453.8" width="2.4" height="10.4" fill="#fff" transform="rotate(0 138 459)"/>
<rect x="136.8" y="453.8" width="2.4" height="10.4" fill="#fff" transform="rotate(45 138 459)"/>
<rect x="136.8" y="453.8" width="2.4" height="10.4" fill="#fff" transform="rotate(90 138 459)"/>
<rect x="136.8" y="453.8" width="2.4" height="10.4" fill="#fff" transform="rotate(135 138 459)"/>
<circle cx="138" cy="459" r="3.6" fill="#fff"/>
<circle cx="138" cy="459" r="1.95" fill="#7d7d7d"/>
<rect x="151" y="458" width="8" height="2" fill="#fff" shape-rendering="crispEdges"/>
<rect x="154" y="455" width="2" height="8" fill="#fff" shape-rendering="crispEdges"/>
<path d="M167.4,454.4 L177,463.8 M177,454.4 L167.4,463.8" stroke="#fff" stroke-width="1.9" fill="none"/>
</g>
<text x="187.2" y="462.6" font-size="11" fill="#9c27b0" font-weight="normal" text-anchor="start" textLength="42.6" lengthAdjust="spacingAndGlyphs">55.8924</text>
<path d="M1.5,531 V512.5 Q1.5,508.5 5.5,508.5 Q9.5,508.5 9.5,512.5 V531 Z" fill="#fff" stroke="#dde3e9" stroke-width="1"/>
<path d="M6.8,518.2 L4.1,521.5 L6.8,524.8" fill="none" stroke="#9bb2c5" stroke-width="1.1"/>
<path d="M964.5,531 V512.5 Q964.5,508.5 968.5,508.5 H971 V531 Z" fill="#fff" stroke="#dde3e9" stroke-width="1"/>
<path d="M967.1,518.2 L969.8,521.5 L967.1,524.8" fill="none" stroke="#9bb2c5" stroke-width="1.1"/>
</svg>
</body></html>
